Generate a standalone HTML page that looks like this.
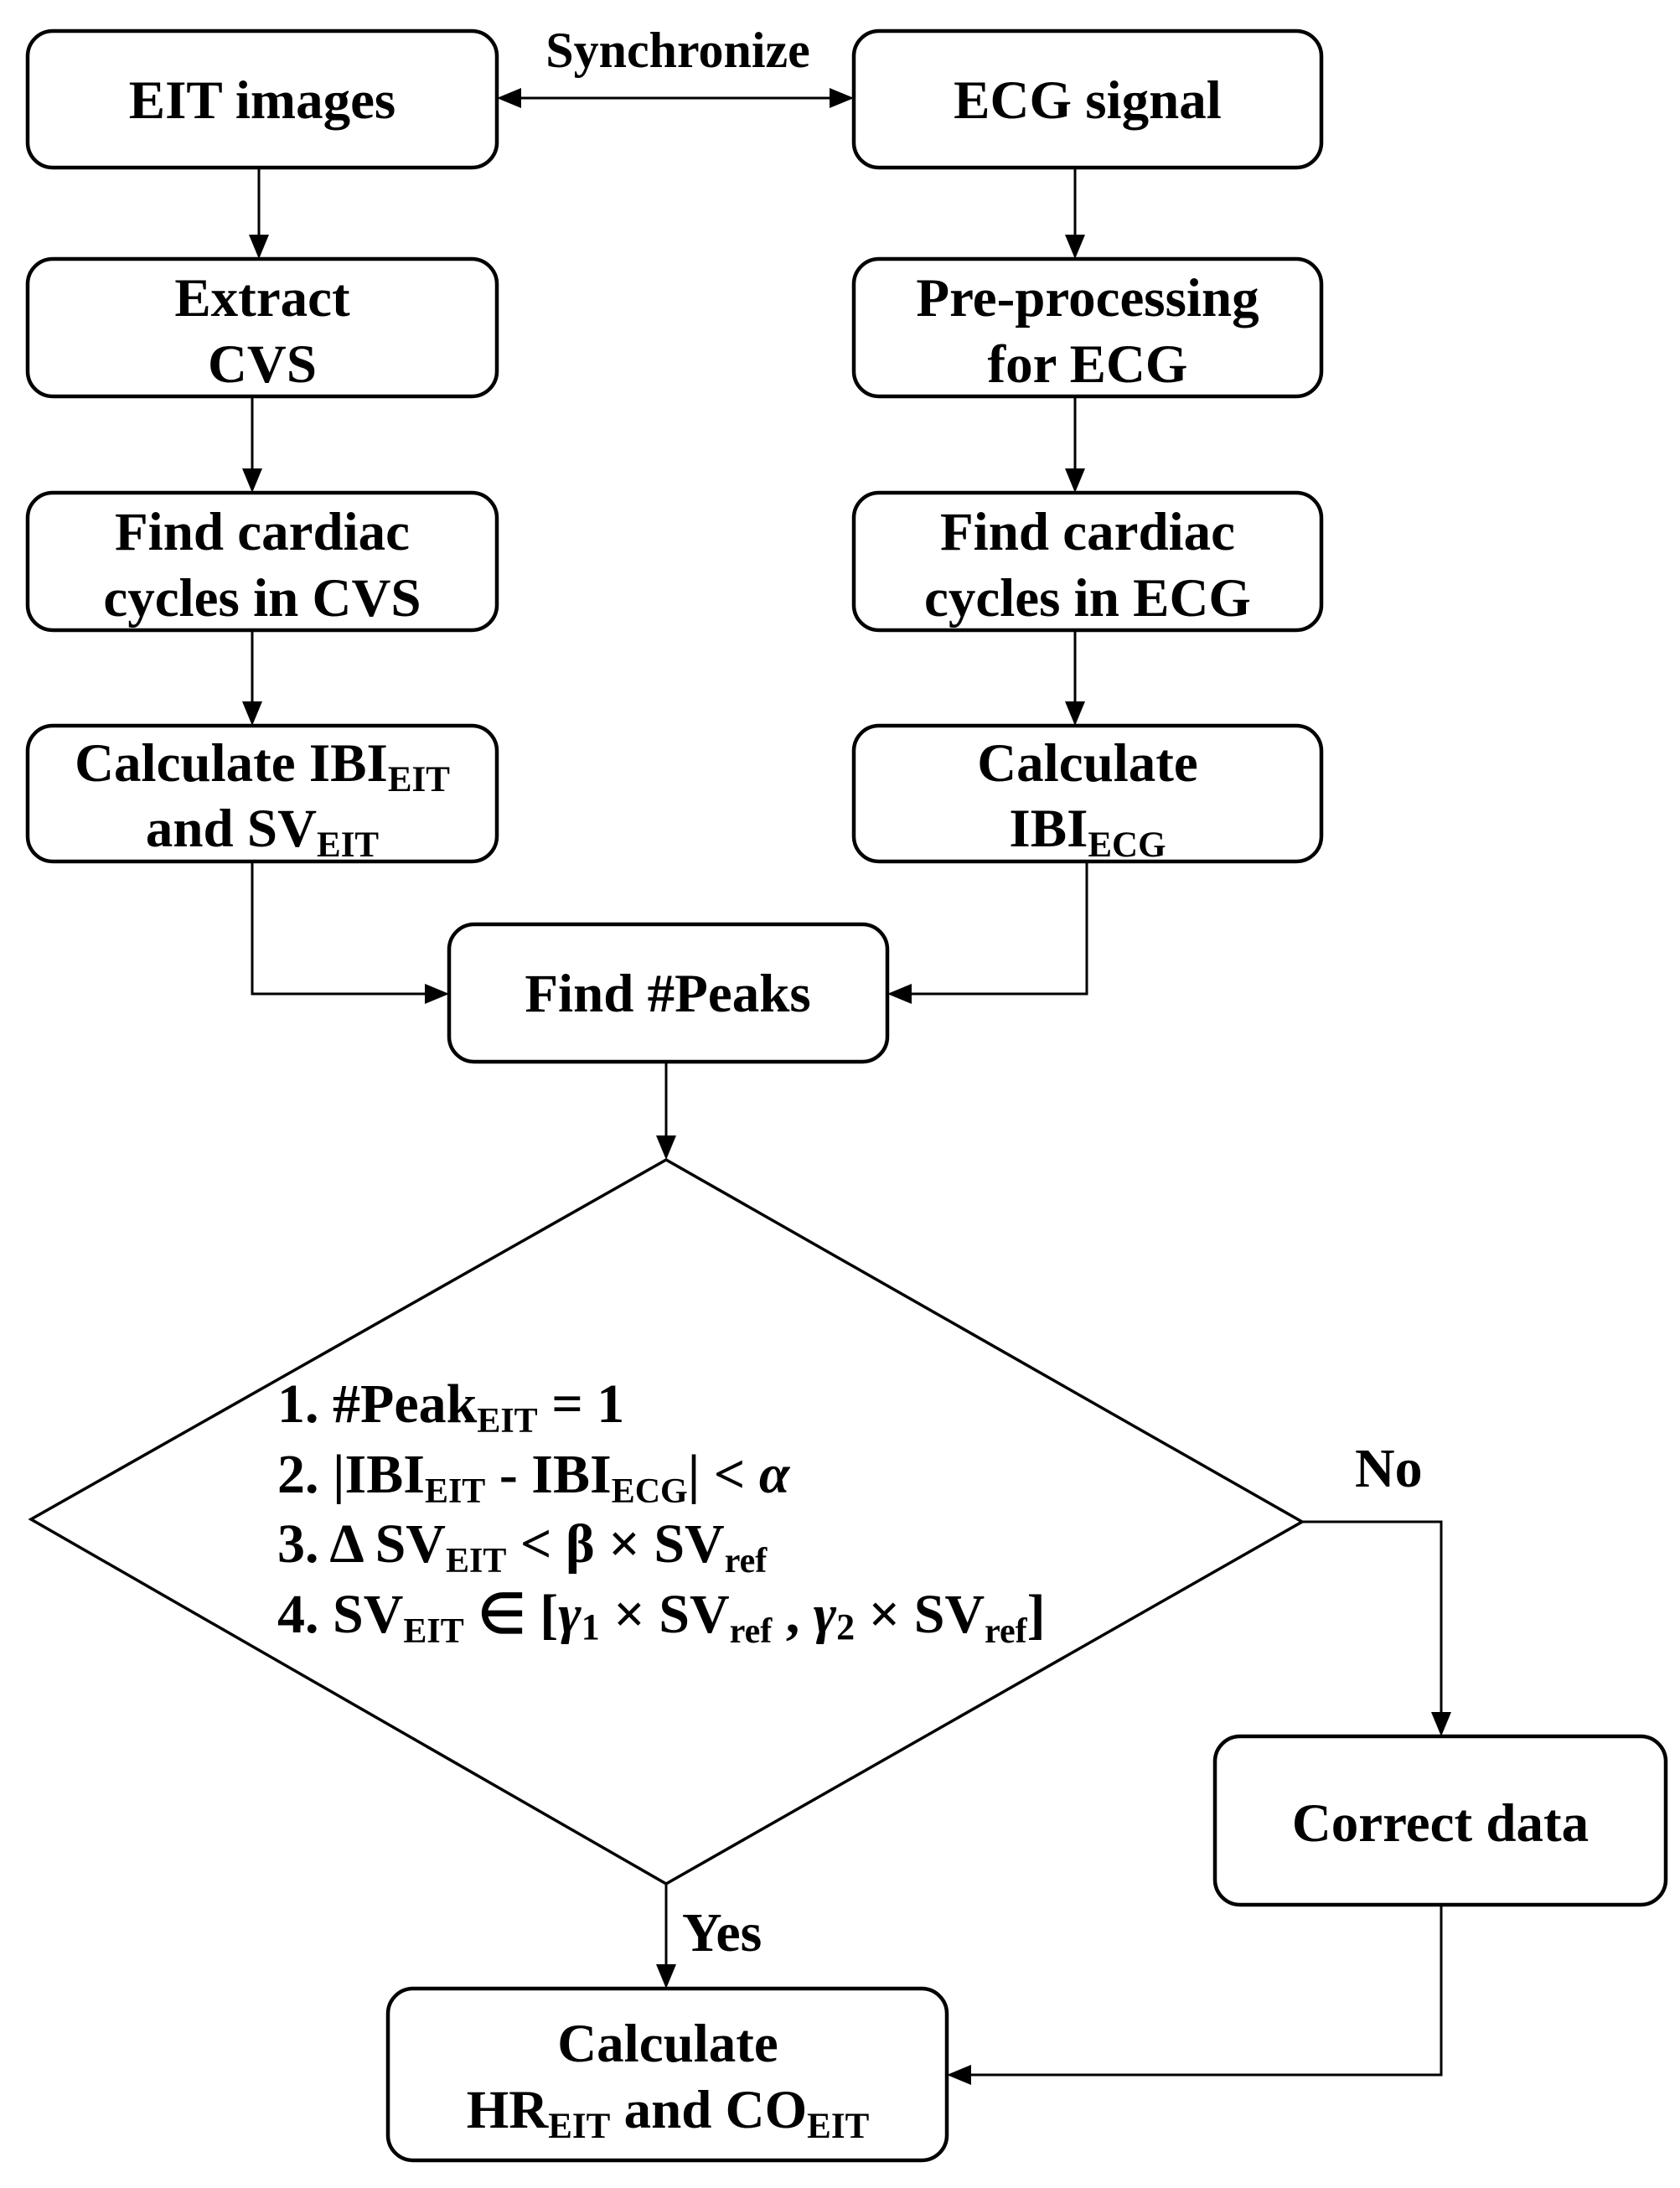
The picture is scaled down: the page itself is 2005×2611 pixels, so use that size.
<!DOCTYPE html>
<html><head><meta charset="utf-8"><style>
html,body{margin:0;padding:0;background:#fff;}
svg{display:block;}
text{font-family:"Liberation Serif",serif;font-weight:bold;fill:#000;}
</style></head><body>
<svg width="2005" height="2611" viewBox="0 0 2005 2611" xmlns="http://www.w3.org/2000/svg">
<g fill="none" stroke="#000" stroke-width="4.5">
<rect x="33" y="37" width="560" height="163" rx="30"/>
<rect x="1019" y="37" width="558" height="163" rx="30"/>
<rect x="33" y="309" width="560" height="164" rx="30"/>
<rect x="1019" y="309" width="558" height="164" rx="30"/>
<rect x="33" y="588" width="560" height="164" rx="30"/>
<rect x="1019" y="588" width="558" height="164" rx="30"/>
<rect x="33" y="866" width="560" height="162" rx="30"/>
<rect x="1019" y="866" width="558" height="162" rx="30"/>
<rect x="536" y="1103" width="523" height="164" rx="30"/>
<rect x="1450" y="2072" width="538" height="201" rx="30"/>
<rect x="463" y="2373" width="667" height="205" rx="30"/>
<polygon points="795,1384 1554,1816 795,2248 37,1813" stroke-width="3.5"/>
</g>
<g fill="none" stroke="#000" stroke-width="3">
<line x1="620" y1="117" x2="992" y2="117"/>
<line x1="309" y1="200" x2="309" y2="282"/>
<line x1="301" y1="473" x2="301" y2="561"/>
<line x1="301" y1="752" x2="301" y2="839"/>
<line x1="1283" y1="200" x2="1283" y2="282"/>
<line x1="1283" y1="473" x2="1283" y2="561"/>
<line x1="1283" y1="752" x2="1283" y2="839"/>
<polyline points="301,1028 301,1186 509,1186"/>
<polyline points="1297,1028 1297,1186 1086,1186"/>
<line x1="795" y1="1267" x2="795" y2="1357"/>
<polyline points="1554,1816 1720,1816 1720,2045"/>
<line x1="795" y1="2248" x2="795" y2="2346"/>
<polyline points="1720,2273 1720,2476 1157,2476"/>
</g>
<g fill="#000">
<polygon points="593,117 622,105 622,129"/>
<polygon points="1019,117 990,105 990,129"/>
<polygon points="309,309 297,280 321,280"/>
<polygon points="301,588 289,559 313,559"/>
<polygon points="301,866 289,837 313,837"/>
<polygon points="1283,309 1271,280 1295,280"/>
<polygon points="1283,588 1271,559 1295,559"/>
<polygon points="1283,866 1271,837 1295,837"/>
<polygon points="536,1186 507,1174 507,1198"/>
<polygon points="1059,1186 1088,1174 1088,1198"/>
<polygon points="795,1384 783,1355 807,1355"/>
<polygon points="1720,2072 1708,2043 1732,2043"/>
<polygon points="795,2373 783,2344 807,2344"/>
<polygon points="1130,2476 1159,2464 1159,2488"/>
</g>
<g font-size="65" text-anchor="middle">
<text x="809" y="80" font-size="60">Synchronize</text>
<text x="313" y="141">EIT images</text>
<text x="1298" y="141">ECG signal</text>
<text x="313" y="377">Extract</text>
<text x="313" y="456">CVS</text>
<text x="1298" y="377">Pre-processing</text>
<text x="1298" y="456">for ECG</text>
<text x="313" y="656">Find cardiac</text>
<text x="313" y="735">cycles in CVS</text>
<text x="1298" y="656">Find cardiac</text>
<text x="1298" y="735">cycles in ECG</text>
<text x="313" y="932">Calculate IBI<tspan font-size="43" dy="12">EIT</tspan></text>
<text x="313" y="1010">and SV<tspan font-size="43" dy="12">EIT</tspan></text>
<text x="1298" y="932">Calculate</text>
<text x="1298" y="1010">IBI<tspan font-size="43" dy="12">ECG</tspan></text>
<text x="797" y="1207">Find #Peaks</text>
<text x="1719" y="2197">Correct data</text>
<text x="797" y="2460">Calculate</text>
<text x="797" y="2539">HR<tspan font-size="43" dy="12">EIT</tspan><tspan dy="-12"> and CO</tspan><tspan font-size="43" dy="12">EIT</tspan></text>
</g>
<g font-size="66">
<text x="331" y="1697">1.  #Peak<tspan font-size="42" dy="12">EIT</tspan><tspan dy="-12"> = 1</tspan></text>
<text x="331" y="1781">2.  |IBI<tspan font-size="42" dy="12">EIT</tspan><tspan dy="-12"> - IBI</tspan><tspan font-size="42" dy="12">ECG</tspan><tspan dy="-12">| &lt; </tspan><tspan font-style="italic">α</tspan></text>
<text x="331" y="1864">3.   Δ SV<tspan font-size="42" dy="12">EIT</tspan><tspan dy="-12"> &lt; β × SV</tspan><tspan font-size="42" dy="12">ref</tspan></text>
<text x="331" y="1948">4.  SV<tspan font-size="42" dy="12">EIT</tspan><tspan dy="-12"> ∈ [</tspan><tspan font-style="italic">γ</tspan><tspan font-size="44" dy="8">1</tspan><tspan dy="-8"> × SV</tspan><tspan font-size="42" dy="12">ref</tspan><tspan dy="-12"> , </tspan><tspan font-style="italic">γ</tspan><tspan font-size="44" dy="8">2</tspan><tspan dy="-8">  ×  SV</tspan><tspan font-size="42" dy="12">ref</tspan><tspan dy="-12">]</tspan></text>
<text x="1617" y="1774">No</text>
<text x="814" y="2328">Yes</text>
</g>
</svg>
</body></html>
